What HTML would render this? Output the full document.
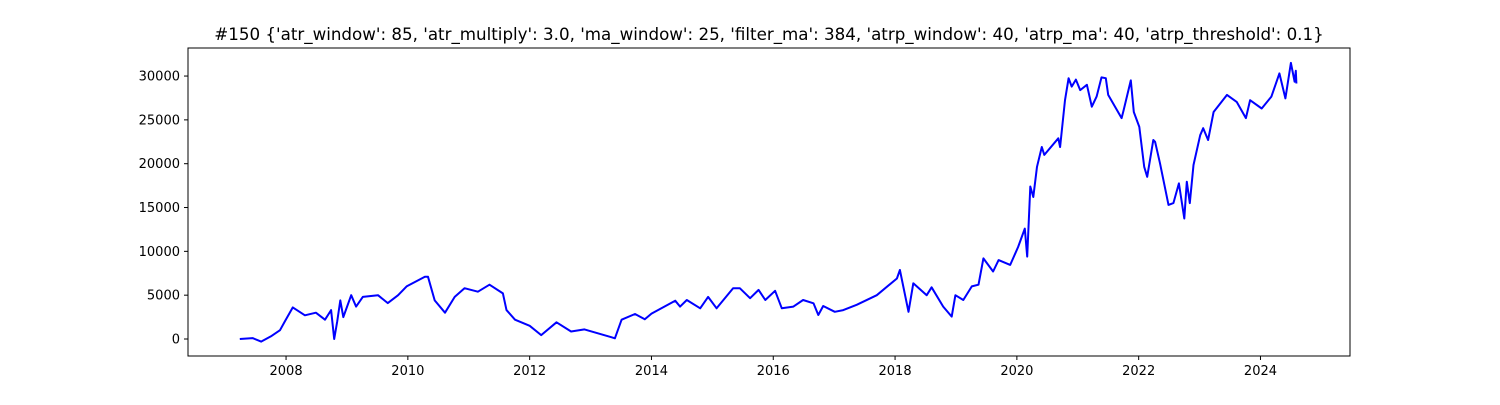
<!DOCTYPE html>
<html><head><meta charset="utf-8"><style>
body{margin:0;background:#fff;}
svg text{font-family:"DejaVu Sans","Liberation Sans",sans-serif;fill:#000;}
</style></head><body>
<svg id="chart" width="1500" height="400" xmlns="http://www.w3.org/2000/svg">
<rect width="1500" height="400" fill="#fff"/>
<text x="769" y="40" font-size="16.7" text-anchor="middle">#150 {'atr_window': 85, 'atr_multiply': 3.0, 'ma_window': 25, 'filter_ma': 384, 'atrp_window': 40, 'atrp_ma': 40, 'atrp_threshold': 0.1}</text>
<g id="ticks"></g>
<path id="series" fill="none" stroke="#0000ff" stroke-width="2" stroke-linejoin="round"/>
<rect x="188" y="48" width="1162" height="308" fill="none" stroke="#000" stroke-width="1"/>
</svg>
<script>
const years=[2007.24,2007.45,2007.59,2007.75,2007.9,2007.98,2008.11,2008.31,2008.49,2008.64,2008.74,2008.79,2008.84,2008.89,2008.94,2009.07,2009.15,2009.26,2009.51,2009.67,2009.84,2009.98,2010.28,2010.33,2010.44,2010.61,2010.77,2010.93,2011.15,2011.34,2011.56,2011.62,2011.76,2012.0,2012.19,2012.44,2012.68,2012.9,2013.1,2013.34,2013.40,2013.51,2013.73,2013.89,2014.0,2014.39,2014.47,2014.58,2014.8,2014.93,2015.07,2015.34,2015.45,2015.62,2015.76,2015.87,2016.03,2016.14,2016.33,2016.49,2016.66,2016.74,2016.82,2017.01,2017.15,2017.37,2017.7,2018.03,2018.08,2018.22,2018.3,2018.52,2018.6,2018.79,2018.93,2018.99,2019.12,2019.26,2019.37,2019.45,2019.61,2019.70,2019.89,2020.02,2020.13,2020.17,2020.22,2020.27,2020.33,2020.41,2020.45,2020.68,2020.71,2020.79,2020.85,2020.9,2020.97,2021.04,2021.15,2021.23,2021.31,2021.39,2021.46,2021.5,2021.72,2021.75,2021.87,2021.92,2022.01,2022.09,2022.14,2022.24,2022.27,2022.35,2022.49,2022.57,2022.66,2022.75,2022.79,2022.84,2022.9,2023.01,2023.06,2023.14,2023.23,2023.45,2023.61,2023.76,2023.83,2024.02,2024.18,2024.31,2024.41,2024.5,2024.56,2024.58,2024.59];
const values=[0,100,-300,300,1000,2000,3600,2700,3000,2200,3300,0,2000,4400,2500,5000,3700,4800,5000,4100,5000,6000,7100,7100,4400,3000,4800,5800,5400,6200,5200,3300,2200,1500,450,1900,850,1100,700,200,80,2200,2850,2250,2900,4370,3700,4450,3500,4800,3500,5800,5800,4650,5600,4450,5500,3500,3700,4450,4070,2740,3760,3100,3300,3900,5000,6900,7870,3100,6350,5000,5900,3700,2550,5000,4450,6000,6200,9200,7700,9000,8450,10500,12600,9400,17400,16200,19650,21900,21000,22900,21900,27250,29750,28800,29600,28400,29000,26500,27650,29850,29750,27850,25200,26000,29500,25900,24200,19650,18500,22700,22500,20050,15300,15500,17750,13750,17950,15500,19850,23250,24050,22700,25900,27850,27050,25200,27250,26300,27650,30300,27450,31500,29350,30600,29150];
const xTicks=[2008,2010,2012,2014,2016,2018,2020,2022,2024];
const yTicks=[0,5000,10000,15000,20000,25000,30000];
const X0=188,X1=1350,Y0=356,Y1=48;
const xMin=2006.39,xMax=2025.47,yMin=-1940,yMax=33200;
function sx(v){return X0+(v-xMin)/(xMax-xMin)*(X1-X0);}
function sy(v){return Y0-(v-yMin)/(yMax-yMin)*(Y0-Y1);}
const NS="http://www.w3.org/2000/svg";
const g=document.getElementById('ticks');
xTicks.forEach(t=>{
  const l=document.createElementNS(NS,'line');
  
  
  l.setAttribute('x1',sx(t));l.setAttribute('x2',sx(t));l.setAttribute('y1',Y0);l.setAttribute('y2',Y0+4);l.setAttribute('stroke','#000');
  g.appendChild(l);
  const tx=document.createElementNS(NS,'text');
  
  
  tx.setAttribute('x',sx(t));tx.setAttribute('y',Y0+19);tx.setAttribute('font-size','13');tx.setAttribute('text-anchor','middle');
  tx.textContent=t;g.appendChild(tx);
});
yTicks.forEach(t=>{
  const l=document.createElementNS(NS,'line');
  
  
  l.setAttribute('x1',X0-4);l.setAttribute('x2',X0);l.setAttribute('y1',sy(t));l.setAttribute('y2',sy(t));l.setAttribute('stroke','#000');
  g.appendChild(l);
  const tx=document.createElementNS(NS,'text');
  
  
  tx.setAttribute('x',X0-8);tx.setAttribute('y',sy(t)+4.5);tx.setAttribute('font-size','13');tx.setAttribute('text-anchor','end');
  tx.textContent=t;g.appendChild(tx);
});
let d='';
years.forEach((y,i)=>{d+=(i?'L':'M')+sx(y).toFixed(1)+','+sy(values[i]).toFixed(1);});
document.getElementById('series').setAttribute('d',d);
</script>
</body></html>
